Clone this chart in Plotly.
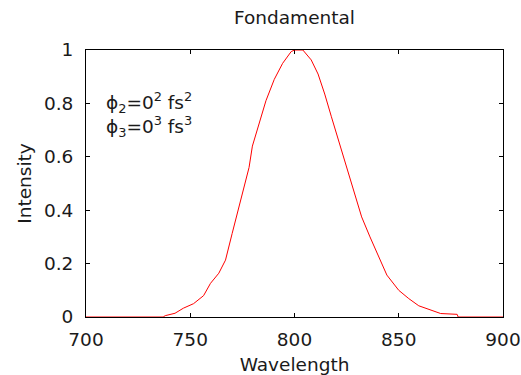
import plotly.graph_objects as go

wavelength = [700, 737, 738, 742.7, 746.7, 751.6, 756.4, 759.7, 763.7, 766.9, 770.1, 772.9,
              775.8, 778.2, 779.8, 783, 786.3, 790.3, 794.3, 798.4, 800, 804, 808, 811.3,
              814.5, 817.7, 820.1, 824.1, 828.2, 832.2, 836.2, 840.3, 844.3, 850, 854.8,
              859.6, 864.5, 870.1, 878, 878.5, 900]
intensity = [0, 0, 0.005, 0.014, 0.033, 0.05, 0.08, 0.126, 0.164, 0.213, 0.313, 0.40,
             0.488, 0.56, 0.64, 0.725, 0.81, 0.89, 0.95, 0.994, 1.0, 1.0, 0.963, 0.91,
             0.835, 0.75, 0.687, 0.588, 0.475, 0.375, 0.30, 0.225, 0.157, 0.10, 0.069,
             0.042, 0.028, 0.013, 0.01, 0, 0]

x_ticks = [700, 750, 800, 850, 900]
y_ticks = [0, 0.2, 0.4, 0.6, 0.8, 1]
y_tick_labels = ["0", "0.2", "0.4", "0.6", "0.8", "1"]

FONT = "DejaVu Sans"
FS = 18.5
TXT = "#1a1a1a"

fig = go.Figure()
fig.add_trace(go.Scatter(x=wavelength, y=intensity, mode="lines",
                         line=dict(color="#ff0000", width=1), showlegend=False,
                         cliponaxis=False))

axis_common = dict(showline=True, linecolor="black", linewidth=1, mirror="ticks",
                   ticks="inside", ticklen=4, tickcolor="black", showgrid=False,
                   zeroline=False, automargin=False, layer="below traces",
                   tickfont=dict(family=FONT, size=FS, color=TXT))

fig.update_layout(
    width=521, height=375,
    margin=dict(l=86, r=18, t=50, b=58, autoexpand=False),
    paper_bgcolor="white", plot_bgcolor="white",
    title=dict(text="Fondamental", x=0.5, xanchor="center", y=1 - 18 / 375,
               yanchor="middle", xref="paper",
               font=dict(family=FONT, size=FS, color=TXT)),
    xaxis=dict(range=[700, 900], tickvals=x_ticks, ticktext=[str(v) for v in x_ticks],
               title=dict(text="Wavelength", standoff=11,
                          font=dict(family=FONT, size=FS, color=TXT)),
               ticklabelstandoff=6, **axis_common),
    yaxis=dict(range=[0, 1], tickvals=y_ticks, ticktext=y_tick_labels,
               title=dict(text="Intensity", standoff=7,
                          font=dict(family=FONT, size=FS, color=TXT)),
               ticklabelstandoff=8, **axis_common),
    annotations=[dict(
        text="ϕ<sub>2</sub>=0<sup>2</sup> fs<sup>2</sup><br>ϕ<sub>3</sub>=0<sup>3</sup> fs<sup>3</sup>",
        x=708.5, y=0.86, xref="x", yref="y", xanchor="left", yanchor="top",
        showarrow=False, align="left",
        font=dict(family=FONT, size=FS, color=TXT))],
)

fig.write_html("out.html")
